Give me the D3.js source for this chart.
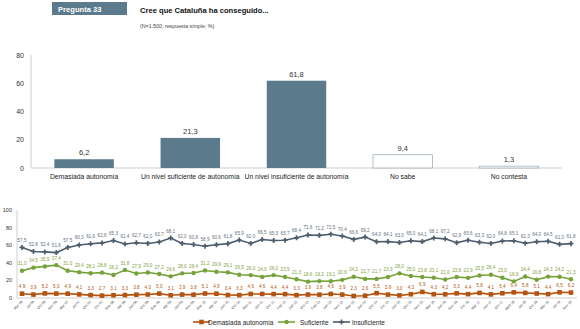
<!DOCTYPE html>
<html>
<head>
<meta charset="utf-8">
<script src="https://cdn.jsdelivr.net/npm/d3@7"></script>
<style>
  body { margin: 0; background: #fff; }
  svg { font-family: "Liberation Sans", Arial, sans-serif; display: block; }
</style>
</head>
<body>
<div id="chart"></div>
<script>
// --- data ---
const barCategories = ["Demasiada autonomía", "Un nivel suficiente de autonomía", "Un nivel insuficiente de autonomía", "No sabe", "No contesta"];
const barValues = [6.2, 21.3, 61.8, 9.4, 1.3];
const barTicks = [0, 20, 40, 60, 80];

const waves = ["Mar 06", "Jul 06", "Oct 06", "Nov 06", "Mar 07", "Jul 07", "Oct 07", "Dic 07", "Ene 08", "Abr 08",
  "Jun 08", "Oct 08", "Ene 09", "Abr 09", "Jun 09", "Nov 09", "Ene 10", "Abr 10", "Jun 10", "Oct 10",
  "Ene 11", "Jun 11", "Oct 11", "Feb 12", "Jun 12", "Oct 12", "Feb 13", "Jun 13", "Nov 13", "Mar 14",
  "Jun 14", "Oct 14", "Dic 14", "Jun 15", "Oct 15", "Nov 15", "Mar 16", "Jun 16", "Nov 16", "Dic 16",
  "Mar 17", "Jun 17", "Oct 17", "Abril 18", "Jul 18", "Oct 18", "Mar 19", "Jul 19", "Nov 19"];
const demasiada = [4.9, 3.9, 5.2, 5.0, 4.9, 4.1, 3.3, 2.7, 3.1, 3.3, 3.8, 4.0, 5.0, 3.1, 3.9, 3.8, 5.1, 4.9, 3.4, 3.3,
  4.6, 4.6, 4.4, 4.4, 3.3, 3.9, 3.8, 4.6, 3.9, 2.3, 2.6, 5.5, 3.9, 3.0, 4.3, 6.9, 4.3, 4.2, 5.3, 4.4,
  5.8, 4.1, 5.4, 6.4, 5.8, 5.1, 4.4, 6.5, 6.2];
const suficiente = [31.0, 34.5, 35.9, 37.4, 31.0, 29.4, 28.1, 28.8, 26.2, 31.8, 27.9, 29.0, 27.2, 24.6, 28.0, 28.4, 31.2, 29.9, 29.1, 26.5,
  26.0, 24.0, 26.0, 23.9, 21.3, 18.6, 19.2, 19.1, 20.6, 24.2, 21.7, 21.7, 23.9, 28.0, 25.0, 23.8, 23.1, 21.0, 23.8, 22.9,
  25.5, 26.4, 23.0, 18.9, 24.4, 20.8, 24.3, 24.2, 21.3];
const insuficiente = [57.5, 52.8, 52.4, 51.6, 57.5, 60.3, 61.6, 62.6, 65.3, 61.4, 62.7, 62.0, 63.7, 68.1, 62.0, 60.8, 58.9, 60.6, 61.8, 65.9,
  62.0, 66.5, 65.3, 65.7, 68.4, 71.6, 71.2, 72.5, 70.4, 66.6, 69.2, 64.0, 64.1, 63.0, 65.0, 64.1, 68.1, 67.2, 62.9, 65.6,
  63.3, 62.0, 64.8, 65.1, 62.3, 64.0, 64.5, 61.0, 61.8];
const lineTicks = [0, 20, 40, 60, 80, 100];

const fmt = v => d3.format(".1f")(v).replace(".", ",");
const slate = "#5b7a8c";
const axisGrey = "#cfcfcf";

const svg = d3.select("#chart").append("svg")
  .attr("width", 580)
  .attr("height", 329);

// --- header ---
svg.append("rect")
  .attr("x", 52).attr("y", 2).attr("width", 75).attr("height", 13)
  .attr("fill", slate);
svg.append("text")
  .attr("x", 58).attr("y", 11.5)
  .attr("font-size", 7.6).attr("font-weight", "bold").attr("fill", "#fff")
  .text("Pregunta 33");
svg.append("text")
  .attr("x", 140).attr("y", 13)
  .attr("font-size", 7.6).attr("font-weight", "bold").attr("fill", "#111")
  .text("Cree que Cataluña ha conseguido...");
svg.append("text")
  .attr("x", 140).attr("y", 28)
  .attr("font-size", 5.3).attr("fill", "#444")
  .text("(N=1.500; respuesta simple; %)");

// --- bar chart ---
const bx = d3.scaleBand()
  .domain(barCategories)
  .range([31, 562])
  .paddingInner(0.44)
  .paddingOuter(0.22);
const by = d3.scaleLinear().domain([0, 80]).range([168, 55]);

const barG = svg.append("g");
barG.append("line")
  .attr("x1", 31).attr("x2", 31).attr("y1", by(80)).attr("y2", by(0))
  .attr("stroke", axisGrey);
barG.append("line")
  .attr("x1", 31).attr("x2", 562).attr("y1", by(0)).attr("y2", by(0))
  .attr("stroke", axisGrey);
barG.selectAll(".ytick").data(barTicks).enter()
  .append("text")
  .attr("x", 24).attr("y", d => by(d) + 2.5)
  .attr("text-anchor", "end").attr("font-size", 7).attr("fill", "#333")
  .text(d => d);

barG.selectAll("rect.bar").data(barCategories).enter()
  .append("rect")
  .attr("x", d => bx(d))
  .attr("y", (d, i) => by(barValues[i]))
  .attr("width", bx.bandwidth())
  .attr("height", (d, i) => by(0) - by(barValues[i]))
  .attr("fill", (d, i) => i < 3 ? slate : "#fff")
  .attr("stroke", (d, i) => i < 3 ? "none" : "#9fb2bd")
  .attr("stroke-width", 0.8);

barG.selectAll("text.val").data(barCategories).enter()
  .append("text")
  .attr("x", d => bx(d) + bx.bandwidth() / 2)
  .attr("y", (d, i) => by(barValues[i]) - 4)
  .attr("text-anchor", "middle").attr("font-size", 7.5).attr("fill", "#333")
  .text((d, i) => fmt(barValues[i]));

barG.selectAll("text.cat").data(barCategories).enter()
  .append("text")
  .attr("x", d => bx(d) + bx.bandwidth() / 2)
  .attr("y", 179)
  .attr("text-anchor", "middle").attr("font-size", 6.8).attr("fill", "#222")
  .text(d => d);

// --- line chart ---
const lx = d3.scalePoint().domain(waves).range([22, 571]);
const ly = d3.scaleLinear().domain([0, 100]).range([298, 210]);

const lineG = svg.append("g");
lineG.append("line")
  .attr("x1", 17).attr("x2", 17).attr("y1", ly(100)).attr("y2", ly(0))
  .attr("stroke", axisGrey);
lineG.append("line")
  .attr("x1", 17).attr("x2", 577).attr("y1", ly(0)).attr("y2", ly(0))
  .attr("stroke", axisGrey);
lineG.selectAll(".ytick").data(lineTicks).enter()
  .append("text")
  .attr("x", 12).attr("y", d => ly(d) + 2)
  .attr("text-anchor", "end").attr("font-size", 5.5).attr("fill", "#333")
  .text(d => d);

lineG.selectAll(".xtick").data(waves).enter()
  .append("text")
  .attr("transform", d => `translate(${lx(d) + 1},${ly(0) + 4}) rotate(-45)`)
  .attr("text-anchor", "end").attr("font-size", 3.6).attr("fill", "#444")
  .text(d => d);

const series = [
  { name: "Demasiada autonomía", values: demasiada, color: "#b4530f", label: "#b4530f", marker: "square" },
  { name: "Suficiente", values: suficiente, color: "#76a23a", label: "#7fa03e", marker: "circle" },
  { name: "Insuficiente", values: insuficiente, color: "#4c5d6d", label: "#5f6f7e", marker: "cross" }
];

const line = d3.line()
  .x((d, i) => lx(waves[i]))
  .y(d => ly(d));

function drawMarker(g, type, color) {
  if (type === "square") {
    g.append("rect").attr("x", -2.3).attr("y", -2.3).attr("width", 4.6).attr("height", 4.6).attr("fill", color);
  } else if (type === "circle") {
    g.append("circle").attr("r", 2.2).attr("fill", color);
  } else {
    g.append("path").attr("d", d3.symbol(d3.symbolCross, 14)()).attr("fill", color);
  }
}

series.forEach(s => {
  lineG.append("path")
    .datum(s.values)
    .attr("d", line)
    .attr("fill", "none")
    .attr("stroke", s.color)
    .attr("stroke-width", 1.6);
  s.values.forEach((v, i) => {
    const g = lineG.append("g").attr("transform", `translate(${lx(waves[i])},${ly(v)})`);
    drawMarker(g, s.marker, s.color);
  });
  lineG.selectAll(null).data(s.values).enter()
    .append("text")
    .attr("x", (d, i) => lx(waves[i]))
    .attr("y", d => ly(d) - 5.5)
    .attr("text-anchor", "middle").attr("font-size", 4.6).attr("fill", s.label)
    .text(d => fmt(d));
});

// --- legend ---
const legendPos = [193, 278, 333];
const legendText = [208, 300, 352];
series.forEach((s, i) => {
  const g = lineG.append("g");
  g.append("line")
    .attr("x1", legendPos[i]).attr("x2", legendPos[i] + 17)
    .attr("y1", 322).attr("y2", 322)
    .attr("stroke", s.color).attr("stroke-width", 1.6);
  const m = g.append("g").attr("transform", `translate(${legendPos[i] + 8.5},322)`);
  drawMarker(m, s.marker, s.color);
  g.append("text")
    .attr("x", legendText[i]).attr("y", 324.5)
    .attr("font-size", 6.5).attr("fill", "#222")
    .text(s.name);
});
</script>
</body>
</html>
